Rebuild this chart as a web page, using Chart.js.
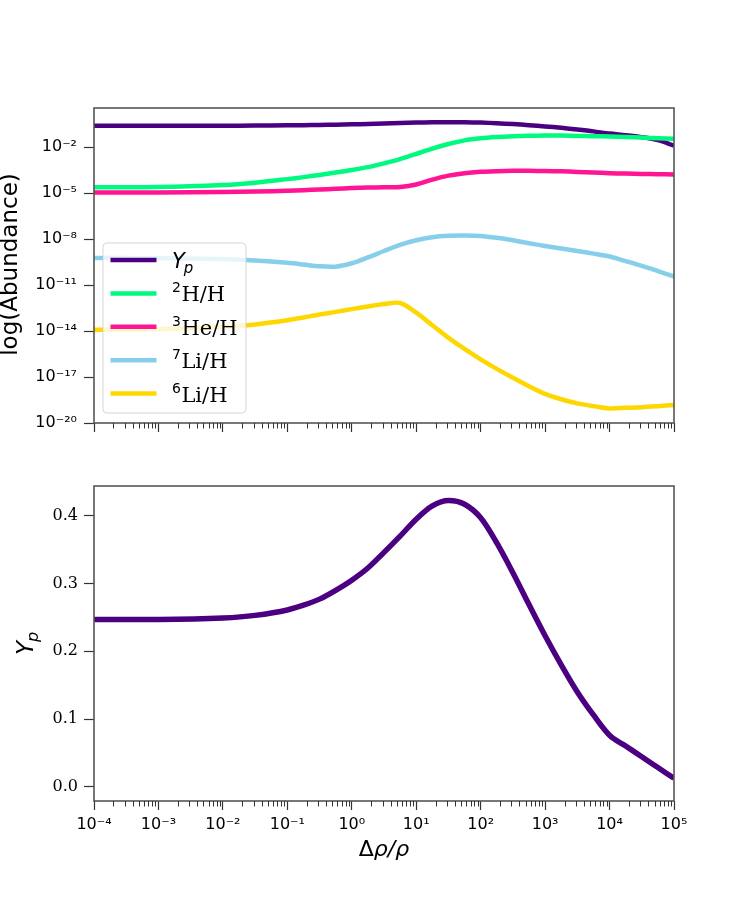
<!DOCTYPE html>
<html>
<head>
<meta charset="utf-8">
<script src="https://cdn.jsdelivr.net/npm/chart.js@4.4.1/dist/chart.umd.min.js"></script>
<style>
html, body { margin: 0; padding: 0; background: #ffffff; }
#wrap { position: relative; width: 750px; height: 900px; overflow: hidden; }
#wrap canvas { position: absolute; left: 0; }
</style>
</head>
<body>
<div id="wrap">
  <canvas id="topChart" width="750" height="450" style="top:0px"></canvas>
  <canvas id="botChart" width="750" height="450" style="top:450px"></canvas>
</div>
<script>
// ---------------- data ----------------
const densityContrast = [1e-4, 1e-3, 1e-2, 0.0316, 0.1, 0.178, 0.316, 0.562, 1, 1.778, 3.162, 5.623,
  10, 17.78, 31.62, 56.23, 100, 177.8, 316.2, 562.3, 1000, 1778, 3162, 5623, 1e4, 17783, 31623, 56234, 1e5];

// helium mass fraction Y_p
const heliumYp = [0.247, 0.247, 0.249, 0.253, 0.261, 0.268, 0.277, 0.290, 0.305, 0.323, 0.346, 0.370,
  0.395, 0.4145, 0.4225, 0.417, 0.397, 0.360, 0.316, 0.269, 0.223, 0.180, 0.140, 0.106, 0.076, 0.0601, 0.0443, 0.0284, 0.0125];

// log10 abundances relative to H
const logDeuterium = [-4.62, -4.61, -4.47, -4.32, -4.09, -3.96, -3.82, -3.66, -3.50, -3.31, -3.06, -2.78,
  -2.45, -2.10, -1.80, -1.56, -1.42, -1.34, -1.29, -1.26, -1.25, -1.25, -1.27, -1.29, -1.31, -1.34, -1.38, -1.42, -1.46];
const logHelium3 = [-4.96, -4.96, -4.93, -4.90, -4.85, -4.81, -4.77, -4.72, -4.67, -4.64, -4.62, -4.60,
  -4.44, -4.12, -3.86, -3.70, -3.61, -3.57, -3.55, -3.55, -3.56, -3.58, -3.62, -3.66, -3.70, -3.73, -3.75, -3.77, -3.79];
const logLithium7 = [-9.24, -9.25, -9.30, -9.40, -9.55, -9.66, -9.78, -9.80, -9.58, -9.20, -8.78, -8.38,
  -8.08, -7.88, -7.79, -7.77, -7.80, -7.92, -8.08, -8.27, -8.45, -8.62, -8.78, -8.95, -9.14, -9.44, -9.75, -10.09, -10.44];
const logLithium6 = [-13.92, -13.88, -13.72, -13.57, -13.30, -13.12, -12.92, -12.75, -12.57, -12.40, -12.24, -12.17,
  -12.80, -13.62, -14.45, -15.17, -15.85, -16.47, -17.05, -17.60, -18.10, -18.45, -18.72, -18.90, -19.05, -19.01, -18.97, -18.90, -18.82];

// ticks
const xTickValues = [1e-4, 1e-3, 1e-2, 1e-1, 1e0, 1e1, 1e2, 1e3, 1e4, 1e5];
const xTickLabels = ['10⁻⁴', '10⁻³', '10⁻²', '10⁻¹', '10⁰', '10¹', '10²', '10³', '10⁴', '10⁵'];
const abundanceTickValues = [1e-20, 1e-17, 1e-14, 1e-11, 1e-8, 1e-5, 1e-2];
const abundanceTickLabels = ['10⁻²⁰', '10⁻¹⁷', '10⁻¹⁴', '10⁻¹¹', '10⁻⁸', '10⁻⁵', '10⁻²'];
const ypTickValues = [0.0, 0.1, 0.2, 0.3, 0.4];
const ypTickLabels = ['0.0', '0.1', '0.2', '0.3', '0.4'];

// legend labels (first char of isotopes is the superscript mass number; "Yp" is Y with subscript p)
const seriesNames = ['Yp', '2H/H', '3He/H', '7Li/H', '6Li/H'];
const seriesColors = ['#4b0082', '#00fa7f', '#ff1493', '#87ceeb', '#ffd700'];

// ---------------- helpers ----------------
const pts = (ys, fromLog) => densityContrast.map((x, i) => ({ x: x, y: fromLog ? Math.pow(10, ys[i]) : ys[i] }));

function tickPicker(values) {
  return function (scale) { scale.ticks = values.map(v => ({ value: v })); };
}
function labelFor(labels) {
  return function (value, index) { return labels[index] !== undefined ? labels[index] : ''; };
}

function drawFrame(chart) {
  const a = chart.chartArea, ctx = chart.ctx;
  ctx.save();
  ctx.strokeStyle = '#555555';
  ctx.lineWidth = 1.6;
  ctx.strokeRect(a.left, a.top, a.right - a.left, a.bottom - a.top);
  ctx.restore();
}
function drawMinorTicks(chart) {
  const sx = chart.scales.x, a = chart.chartArea, ctx = chart.ctx;
  ctx.save();
  ctx.strokeStyle = '#333333';
  ctx.lineWidth = 1;
  for (let e = -4; e < 5; e++) {
    for (let k = 2; k <= 9; k++) {
      const px = Math.round(sx.getPixelForValue(k * Math.pow(10, e))) + 0.5;
      ctx.beginPath();
      ctx.moveTo(px, a.bottom);
      ctx.lineTo(px, a.bottom + 5.5);
      ctx.stroke();
    }
  }
  ctx.restore();
}

function drawLegend(chart) {
  const ctx = chart.ctx, a = chart.chartArea;
  const bx = a.left + 9, by = a.top + 135, bw = 143, bh = 170, r = 4;
  ctx.save();
  ctx.beginPath();
  ctx.moveTo(bx + r, by);
  ctx.lineTo(bx + bw - r, by); ctx.quadraticCurveTo(bx + bw, by, bx + bw, by + r);
  ctx.lineTo(bx + bw, by + bh - r); ctx.quadraticCurveTo(bx + bw, by + bh, bx + bw - r, by + bh);
  ctx.lineTo(bx + r, by + bh); ctx.quadraticCurveTo(bx, by + bh, bx, by + bh - r);
  ctx.lineTo(bx, by + r); ctx.quadraticCurveTo(bx, by, bx + r, by);
  ctx.closePath();
  ctx.fillStyle = 'rgba(255,255,255,0.8)';
  ctx.fill();
  ctx.strokeStyle = 'rgba(204,204,204,0.8)';
  ctx.lineWidth = 1;
  ctx.stroke();

  ctx.textBaseline = 'alphabetic';
  ctx.textAlign = 'left';
  ctx.fillStyle = '#000000';
  for (let i = 0; i < seriesNames.length; i++) {
    const cy = by + 17 + i * 33.4;
    ctx.beginPath();
    ctx.strokeStyle = seriesColors[i];
    ctx.lineWidth = 4.5;
    ctx.moveTo(bx + 7.5, cy);
    ctx.lineTo(bx + 53.5, cy);
    ctx.stroke();
    const tx = bx + 69, base = cy + 8;
    const name = seriesNames[i];
    if (i === 0) {
      ctx.font = 'italic 21px "DejaVu Sans"';
      ctx.fillText(name.charAt(0), tx, base);
      const w = ctx.measureText(name.charAt(0)).width;
      ctx.font = 'italic 15px "DejaVu Sans"';
      ctx.fillText(name.slice(1), tx + w - 1, base + 4.5);
    } else {
      ctx.font = '14px "DejaVu Sans"';
      ctx.fillText(name.charAt(0), tx, base - 9);
      const w = ctx.measureText(name.charAt(0)).width;
      ctx.font = '21px "DejaVu Serif"';
      ctx.fillText(name.slice(1), tx + w + 0.5, base);
    }
  }
  ctx.restore();
}

function drawRotated(ctx, x, y, drawFn) {
  ctx.save();
  ctx.translate(x, y);
  ctx.rotate(-Math.PI / 2);
  drawFn(ctx);
  ctx.restore();
}

const topDecor = {
  id: 'topDecor',
  afterDatasetsDraw(chart) { drawFrame(chart); drawMinorTicks(chart); },
  afterDraw(chart) {
    drawLegend(chart);
    const a = chart.chartArea;
    drawRotated(chart.ctx, 17, (a.top + a.bottom) / 2 - 1, ctx => {
      ctx.font = '23px "DejaVu Sans"';
      ctx.fillStyle = '#000';
      ctx.textAlign = 'center';
      ctx.textBaseline = 'alphabetic';
      ctx.fillText('log(Abundance)', 0, 0);
    });
  }
};

const botDecor = {
  id: 'botDecor',
  afterDatasetsDraw(chart) { drawFrame(chart); drawMinorTicks(chart); },
  afterDraw(chart) {
    const a = chart.chartArea, c = chart.ctx;
    drawRotated(c, 33, (a.top + a.bottom) / 2, ctx => {
      ctx.fillStyle = '#000';
      ctx.textBaseline = 'alphabetic';
      ctx.textAlign = 'left';
      ctx.font = 'italic 23px "DejaVu Sans"';
      const wY = ctx.measureText('Y').width;
      ctx.font = 'italic 16px "DejaVu Sans"';
      const wp = ctx.measureText('p').width;
      const total = wY + wp - 1;
      ctx.font = 'italic 23px "DejaVu Sans"';
      ctx.fillText('Y', -total / 2, 0);
      ctx.font = 'italic 16px "DejaVu Sans"';
      ctx.fillText('p', -total / 2 + wY - 1, 5);
    });
    // x-axis title  Δρ/ρ
    c.save();
    c.fillStyle = '#000';
    c.textBaseline = 'alphabetic';
    c.textAlign = 'left';
    const parts = [['Δ', '22px "DejaVu Sans"'], ['ρ', 'italic 22px "DejaVu Sans"'], ['/', 'italic 22px "DejaVu Sans"'], ['ρ', 'italic 22px "DejaVu Sans"']];
    let tw = 0;
    parts.forEach(p => { c.font = p[1]; tw += c.measureText(p[0]).width; });
    let x = (a.left + a.right) / 2 - tw / 2;
    parts.forEach(p => { c.font = p[1]; c.fillText(p[0], x, 406); x += c.measureText(p[0]).width; });
    c.restore();
  }
};

Chart.defaults.font.family = '"DejaVu Sans"';
Chart.defaults.color = '#000000';

// ---------------- top chart: abundances ----------------
new Chart(document.getElementById('topChart'), {
  type: 'line',
  data: {
    datasets: [
      { label: seriesNames[0], data: pts(heliumYp, false), borderColor: seriesColors[0], order: 5 },
      { label: seriesNames[1], data: pts(logDeuterium, true), borderColor: seriesColors[1], order: 4 },
      { label: seriesNames[2], data: pts(logHelium3, true), borderColor: seriesColors[2], order: 3 },
      { label: seriesNames[3], data: pts(logLithium7, true), borderColor: seriesColors[3], order: 2 },
      { label: seriesNames[4], data: pts(logLithium6, true), borderColor: seriesColors[4], order: 1 }
    ].map(d => Object.assign(d, { borderWidth: 4.5, pointRadius: 0, fill: false, tension: 0.3 }))
  },
  options: {
    responsive: false,
    animation: false,
    devicePixelRatio: 1,
    layout: { padding: { left: 0, right: 76, top: 108, bottom: 0 } },
    plugins: { legend: { display: false }, tooltip: { enabled: false } },
    scales: {
      x: {
        type: 'logarithmic', min: 1e-4, max: 1e5, bounds: 'data',
        afterBuildTicks: tickPicker(xTickValues),
        afterFit: s => { s.height = 27; },
        grid: { display: true, drawOnChartArea: false, drawTicks: true, tickLength: 9, tickColor: '#333333', tickWidth: 1.2 },
        border: { display: false },
        ticks: { display: false, autoSkip: false }
      },
      y: {
        type: 'logarithmic', min: 1e-20, max: Math.pow(10, 0.55), bounds: 'data',
        afterBuildTicks: tickPicker(abundanceTickValues),
        afterFit: s => { s.width = 94; },
        grid: { display: true, drawOnChartArea: false, drawTicks: true, tickLength: 10, tickColor: '#333333', tickWidth: 1.2 },
        border: { display: false },
        ticks: { autoSkip: false, padding: 7, font: { family: '"DejaVu Sans"', size: 16 }, color: '#000',
          callback: labelFor(abundanceTickLabels) }
      }
    }
  },
  plugins: [topDecor]
});

// ---------------- bottom chart: Y_p ----------------
new Chart(document.getElementById('botChart'), {
  type: 'line',
  data: {
    datasets: [
      { label: seriesNames[0], data: pts(heliumYp, false), borderColor: seriesColors[0], borderWidth: 5.5,
        pointRadius: 0, fill: false, cubicInterpolationMode: 'monotone' }
    ]
  },
  options: {
    responsive: false,
    animation: false,
    devicePixelRatio: 1,
    layout: { padding: { left: 0, right: 76, top: 36, bottom: 0 } },
    plugins: { legend: { display: false }, tooltip: { enabled: false } },
    scales: {
      x: {
        type: 'logarithmic', min: 1e-4, max: 1e5, bounds: 'data',
        afterBuildTicks: tickPicker(xTickValues),
        afterFit: s => { s.height = 99; },
        grid: { display: true, drawOnChartArea: false, drawTicks: true, tickLength: 9, tickColor: '#333333', tickWidth: 1.2 },
        border: { display: false },
        ticks: { autoSkip: false, maxRotation: 0, minRotation: 0, padding: 5, font: { family: '"DejaVu Sans"', size: 16 }, color: '#000',
          callback: labelFor(xTickLabels) }
      },
      y: {
        type: 'linear', min: -0.021, max: 0.444, bounds: 'data',
        afterBuildTicks: tickPicker(ypTickValues),
        afterFit: s => { s.width = 94; },
        grid: { display: true, drawOnChartArea: false, drawTicks: true, tickLength: 10, tickColor: '#333333', tickWidth: 1.2 },
        border: { display: false },
        ticks: { autoSkip: false, padding: 6, font: { family: '"DejaVu Serif"', size: 16 }, color: '#000',
          callback: labelFor(ypTickLabels) }
      }
    }
  },
  plugins: [botDecor]
});
</script>
</body>
</html>
